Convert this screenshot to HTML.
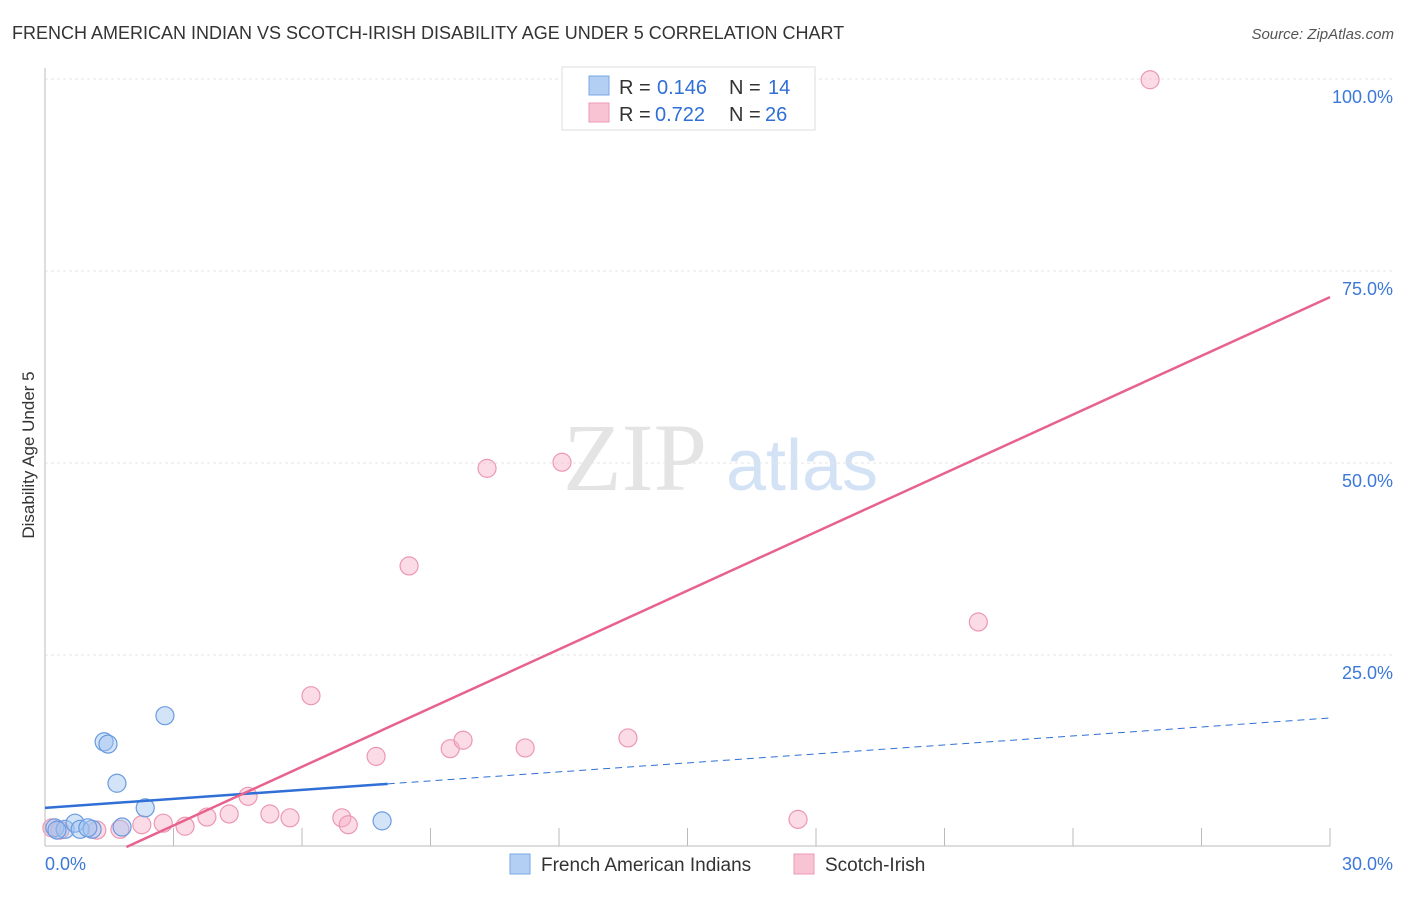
<!DOCTYPE html>
<html><head><meta charset="utf-8"><style>
body{margin:0;background:#fff;font-family:"Liberation Sans",sans-serif;}
</style></head><body>
<svg width="1406" height="892" xmlns="http://www.w3.org/2000/svg" id="svg" font-family="Liberation Sans, sans-serif">
<text x="12" y="39" font-size="18" fill="#333">FRENCH AMERICAN INDIAN VS SCOTCH-IRISH DISABILITY AGE UNDER 5 CORRELATION CHART</text>
<text x="1394" y="39" font-size="15" fill="#555" font-style="italic" text-anchor="end">Source: ZipAtlas.com</text>
<text x="34" y="455" font-size="17" fill="#333" text-anchor="middle" transform="rotate(-90 34 455)">Disability Age Under 5</text>
<g>
<text x="635" y="490" font-size="96" fill="#e4e4e4" font-family="Liberation Serif, serif" text-anchor="middle">ZIP</text>
<text x="802" y="490" font-size="72" fill="#d3e2f5" text-anchor="middle">atlas</text>
</g>
<g id="grid"></g><g id="axes"></g><g id="marks"></g>
<g>
<rect x="562" y="67" width="253" height="63" fill="#fff" stroke="#ddd"/>
<rect x="589" y="76" width="20" height="19" fill="#b3cff3" stroke="#7aa7e6"/>
<rect x="589" y="103" width="20" height="19" fill="#f8c4d3" stroke="#ee9ab4"/>
<text x="619" y="94" font-size="20" fill="#333">R =</text><text x="657" y="94" font-size="20" fill="#2f6fd6">0.146</text>
<text x="729" y="94" font-size="20" fill="#333">N =</text><text x="768" y="94" font-size="20" fill="#2f6fd6">14</text>
<text x="619" y="121" font-size="20" fill="#333">R =</text><text x="655" y="121" font-size="20" fill="#2f6fd6">0.722</text>
<text x="729" y="121" font-size="20" fill="#333">N =</text><text x="765" y="121" font-size="20" fill="#2f6fd6">26</text>
</g>
<g>
<rect x="510" y="854" width="20" height="20" fill="#b3cff3" stroke="#7aa7e6"/>
<text x="541" y="871" font-size="19" fill="#333">French American Indians</text>
<rect x="794" y="854" width="20" height="20" fill="#f8c4d3" stroke="#ee9ab4"/>
<text x="825" y="871" font-size="19" fill="#333">Scotch-Irish</text>
</g>
</svg>
<script>
const yTicks=[25,50,75,100];
const yTickLabels=["25.0%","50.0%","75.0%","100.0%"];
const xTicks=[3,6,9,12,15,18,21,24,27,30];
const blueX=[0.23,0.47,0.70,0.82,1.10,1.80,1.38,1.47,1.68,2.34,2.80,7.87,0.28,1.00];
const blueY=[2.5,2.3,3.1,2.3,2.3,2.6,13.7,13.4,8.3,5.1,17.1,3.4,2.2,2.5];
const pinkX=[0.16,0.35,1.21,1.75,2.26,2.76,3.27,3.78,4.30,4.74,5.25,5.72,6.21,6.93,7.08,7.73,8.50,9.46,9.76,10.32,11.21,12.07,13.61,17.58,21.79,25.80];
const pinkY=[2.5,2.2,2.2,2.3,2.9,3.1,2.7,3.9,4.3,6.6,4.3,3.8,19.7,3.8,2.9,11.8,36.6,12.8,13.9,49.3,12.9,50.1,14.2,3.6,29.3,99.9];
const blueTrend=[5.1,16.8];
const pinkTrend=[-4.84,71.6];
const NS="http://www.w3.org/2000/svg";
const X=v=>45+v/30*1285, Y=v=>847-v/25*192;
function mk(t,a,p){const e=document.createElementNS(NS,t);for(const k in a)e.setAttribute(k,a[k]);document.getElementById(p).appendChild(e);return e;}
yTicks.forEach((t,i)=>{
 const l=mk('line',{x1:45,x2:1394,y1:Y(t),y2:Y(t),stroke:'#e6e6e6','stroke-dasharray':'3 3'},'grid');
 
 
 const tx=mk('text',{x:1393,y:Y(t)+24,'font-size':18,fill:'#3b78d8','text-anchor':'end'},'grid');
 tx.textContent=yTickLabels[i];
 
 
});
let a=mk('line',{x1:45,x2:45,y1:68,y2:846,stroke:'#bbb'},'axes');


a=mk('line',{x1:45,x2:1330,y1:846,y2:846,stroke:'#bbb'},'axes');


xTicks.forEach(t=>{const l=mk('line',{x1:X(t),x2:X(t),y1:828,y2:846,stroke:'#bbb'},'axes');
 
 });
let t=mk('text',{x:45,y:870,'font-size':18,fill:'#3b78d8'},'axes');t.textContent='0.0%';


t=mk('text',{x:1393,y:870,'font-size':18,fill:'#3b78d8','text-anchor':'end'},'axes');t.textContent='30.0%';


pinkX.forEach((x,i)=>{const c=mk('circle',{cx:X(x),cy:Y(pinkY[i]),r:9,fill:'rgba(246,176,198,0.45)',stroke:'#ec98b2','stroke-width':1.2},'marks');
 
 });
blueX.forEach((x,i)=>{const c=mk('circle',{cx:X(x),cy:Y(blueY[i]),r:9,fill:'rgba(160,196,240,0.45)',stroke:'#6a9be0','stroke-width':1.2},'marks');
 
 });
const bt=x=>blueTrend[0]+(blueTrend[1]-blueTrend[0])*x/30;
let l=mk('line',{x1:X(0),y1:Y(bt(0)),x2:X(8),y2:Y(bt(8)),stroke:'#2f6fd6','stroke-width':2.5},'marks');


l=mk('line',{x1:X(8),y1:Y(bt(8)),x2:X(30),y2:Y(bt(30)),stroke:'#2f6fd6','stroke-width':1,'stroke-dasharray':'7 5'},'marks');


const pt=x=>pinkTrend[0]+(pinkTrend[1]-pinkTrend[0])*x/30;
const x0=-pinkTrend[0]/((pinkTrend[1]-pinkTrend[0])/30);
l=mk('line',{x1:X(x0),y1:Y(0),x2:X(30),y2:Y(pt(30)),stroke:'#e8628e','stroke-width':2.5},'marks');


</script>
</body></html>
